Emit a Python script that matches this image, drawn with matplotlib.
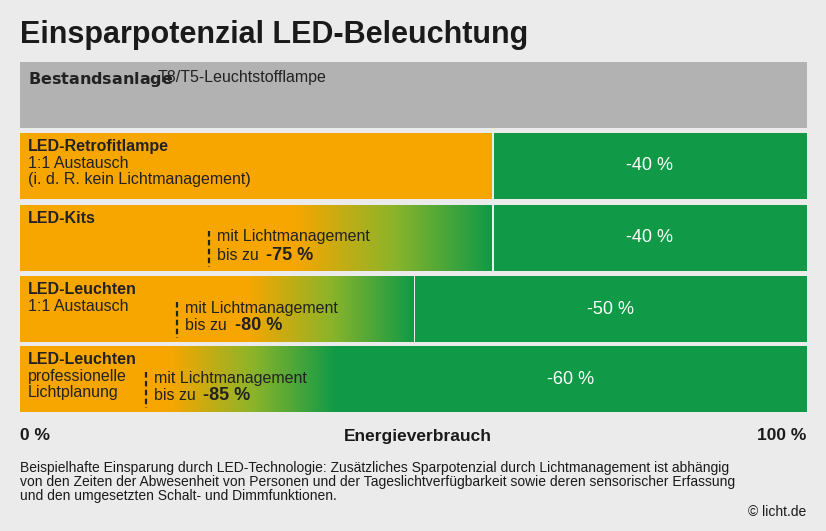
import numpy as np
import matplotlib.pyplot as plt
from matplotlib.colors import LinearSegmentedColormap

plt.rcParams['font.family'] = ['Liberation Sans', 'DejaVu Sans']

W, H = 826, 531
ORANGE = '#f7a600'
GREEN = '#109a47'
GRAY = '#b2b2b2'
BG = '#ebebeb'

# energy use after retrofit (% of existing installation), value with light management, gradient start
rows = ['LED-Retrofitlampe', 'LED-Kits', 'LED-Leuchten', 'LED-Leuchten']
subs = ['1:1 Austausch\n(i. d. R. kein Lichtmanagement)', '', '1:1 Austausch', 'professionelle\nLichtplanung']
use_pct = [60, 60, 50, 40]
saving_lbl = ['-40 %', '-40 %', '-50 %', '-60 %']
lm_pct = [None, 24, 20, 16]
lm_lbl = [None, '-75 %', '-80 %', '-85 %']
grad_start = [None, 35, 29, 19]

row_top = [133, 205, 276, 346]
row_h = 66

fig = plt.figure(figsize=(W/100, H/100), dpi=100)
fig.patch.set_facecolor(BG)
x0, x1, y0, y1 = 20, 807, 62, 412
ax = fig.add_axes([x0/W, 1-y1/H, (x1-x0)/W, (y1-y0)/H])
ax.axis('off')

cmap = LinearSegmentedColormap.from_list('og', [ORANGE, '#8cb42a', GREEN])

ax.add_patch(plt.Rectangle((0, 62), 100, 66, color=GRAY, lw=0))
ax.text(1, 70, r'$\bf{Bestandsanlage}$', fontsize=11.5, va='top', color='#222222')
ax.text(17.5, 70, 'T8/T5-Leuchtstofflampe', fontsize=11.5, va='top', color='#222222')

for i in range(4):
    t = row_top[i]
    u = use_pct[i]
    ax.add_patch(plt.Rectangle((u + 0.2, t), 100 - u - 0.2, row_h, color=GREEN, lw=0))
    ax.text((u + 100) / 2, t + row_h/2, saving_lbl[i], color='white', fontsize=13, ha='center', va='center')
    if grad_start[i] is None:
        ax.add_patch(plt.Rectangle((0, t), u, row_h, color=ORANGE, lw=0))
    else:
        g = grad_start[i]
        ax.add_patch(plt.Rectangle((0, t), g, row_h, color=ORANGE, lw=0))
        ax.imshow(np.linspace(0, 1, 256)[None, :], cmap=cmap, aspect='auto',
                  extent=(g, u, t + row_h, t), zorder=1)
        d = lm_pct[i]
        ax.plot([d, d], [t + 26, t + row_h - 4], ls=(0, (2.5, 1.5)), color='#222222', lw=1.6, zorder=3)
        ax.text(d + 1, t + 32, 'mit Lichtmanagement', fontsize=11.5, va='center', color='#222222', zorder=3)
        ax.text(d + 1, t + 50, 'bis zu', fontsize=11.5, va='center', color='#222222', zorder=3)
        ax.text(d + 7.3, t + 50, lm_lbl[i], fontsize=13, fontweight='bold', va='center', color='#222222', zorder=3)
    ax.text(1, t + 6, rows[i], fontsize=11.5, fontweight='bold', va='top', color='#222222')
    ax.text(1, t + 23, subs[i], fontsize=11.5, va='top', color='#222222', linespacing=1.1)
ax.set_xlim(0, 100)
ax.set_ylim(y1, y0)

fig.text(20/W, 1-35/H, 'Einsparpotenzial LED-Beleuchtung', fontsize=22, fontweight='bold', va='center', color='#1a1a1a')
fig.text(20/W, 1-436/H, '0 %', fontsize=12.5, fontweight='bold', va='center', color='#1a1a1a')
fig.text(418/W, 1-436/H, 'Energieverbrauch', fontsize=12.5, fontweight='bold', va='center', ha='center', color='#1a1a1a')
fig.text(806/W, 1-436/H, '100 %', fontsize=12.5, fontweight='bold', va='center', ha='right', color='#1a1a1a')
fig.text(20/W, 1-461/H, 'Beispielhafte Einsparung durch LED-Technologie: Zusätzliches Sparpotenzial durch Lichtmanagement ist abhängig\n'
         'von den Zeiten der Abwesenheit von Personen und der Tageslichtverfügbarkeit sowie deren sensorischer Erfassung\n'
         'und den umgesetzten Schalt- und Dimmfunktionen.', fontsize=10, va='top', color='#1a1a1a', linespacing=1.0)
fig.text(806/W, 1-512/H, '© licht.de', fontsize=10, ha='right', va='center', color='#1a1a1a')

fig.savefig('out.png', dpi=100, facecolor=BG)
